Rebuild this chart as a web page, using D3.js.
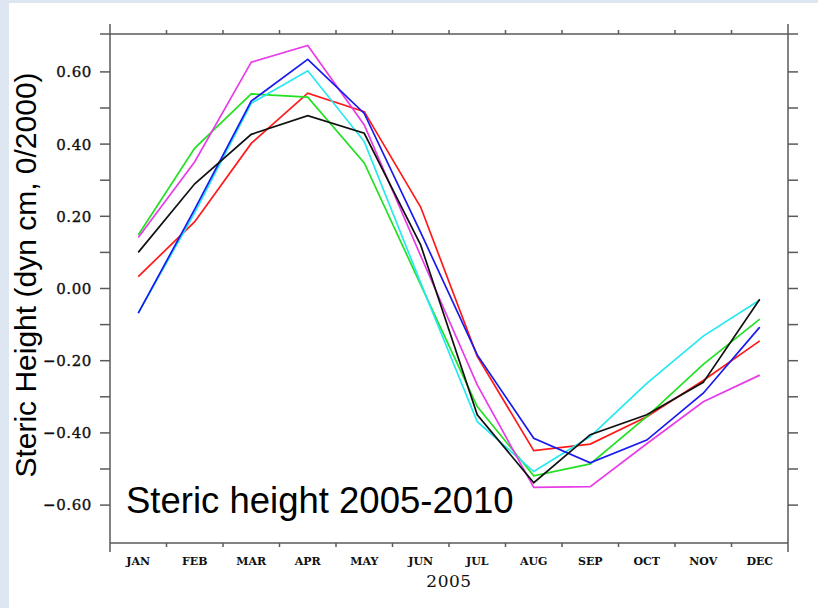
<!DOCTYPE html>
<html>
<head>
<meta charset="utf-8">
<script src="https://cdn.jsdelivr.net/npm/d3@7"></script>
<style>
  body { margin: 0; background: #dde6f1; }
  svg { display: block; }
</style>
</head>
<body>
<svg width="818" height="608"></svg>
<script>
var months = ['JAN','FEB','MAR','APR','MAY','JUN','JUL','AUG','SEP','OCT','NOV','DEC'];
var yTicks = [-0.6,-0.4,-0.2,0,0.2,0.4,0.6];
var yMinor = [-0.6,-0.5,-0.4,-0.3,-0.2,-0.1,0,0.1,0.2,0.3,0.4,0.5,0.6];

// one line per year, colours as in the original plot
var black   = [0.100, 0.290, 0.427, 0.479, 0.430, 0.120, -0.350, -0.538, -0.405, -0.350, -0.260, -0.030];
var red     = [0.033, 0.185, 0.402, 0.541, 0.490, 0.225, -0.188, -0.449, -0.431, -0.355, -0.255, -0.145];
var green   = [0.148, 0.389, 0.539, 0.530, 0.348, 0.010, -0.327, -0.519, -0.486, -0.355, -0.210, -0.085];
var blue    = [-0.068, 0.220, 0.519, 0.635, 0.485, 0.155, -0.184, -0.415, -0.483, -0.420, -0.290, -0.107];
var cyan    = [-0.068, 0.210, 0.513, 0.603, 0.407, 0.015, -0.369, -0.507, -0.410, -0.263, -0.132, -0.032];
var magenta = [0.141, 0.351, 0.627, 0.673, 0.453, 0.090, -0.267, -0.551, -0.549, -0.430, -0.314, -0.240];

var series = [
  {color: '#ff1a1a', values: red},
  {color: '#22e022', values: green},
  {color: '#26e8f0', values: cyan},
  {color: '#e83ce8', values: magenta},
  {color: '#1a1aee', values: blue},
  {color: '#111111', values: black}
];

// plot frame (named so they don't clash with window.top)
var fLeft = 110, fRight = 788, fTop = 34, fBottom = 543;
var axisColor = '#5a5a5a';

var svg = d3.select('svg');

svg.append('rect')
  .attr('x', 9).attr('y', 3)
  .attr('width', 809).attr('height', 605)
  .attr('fill', '#ffffff');

var x = d3.scaleBand().domain(months).range([fLeft, fRight]).padding(0);
var y = d3.scaleLinear().domain([-0.705, 0.705]).range([fBottom, fTop]);

var plot = svg.append('g');

// frame
var frame = svg.append('g').attr('stroke', axisColor).attr('stroke-width', 1.5);
frame.append('line').attr('x1', fLeft).attr('x2', fLeft).attr('y1', fTop - 10).attr('y2', fBottom + 9);
frame.append('line').attr('x1', fRight).attr('x2', fRight).attr('y1', fTop - 10).attr('y2', fBottom + 9);
frame.append('line').attr('x1', fLeft - 10).attr('x2', fRight + 10).attr('y1', fTop).attr('y2', fTop);
frame.append('line').attr('x1', fLeft).attr('x2', fRight).attr('y1', fBottom).attr('y2', fBottom);

// y ticks on both sides
frame.selectAll('.ytl').data(yMinor).enter().append('line')
  .attr('x1', fLeft - 10).attr('x2', fLeft)
  .attr('y1', function(d) { return y(d); }).attr('y2', function(d) { return y(d); });
frame.selectAll('.ytr').data(yMinor).enter().append('line')
  .attr('x1', fRight).attr('x2', fRight + 10)
  .attr('y1', function(d) { return y(d); }).attr('y2', function(d) { return y(d); });

// month boundary ticks top and bottom
var bounds = months.slice(1);
frame.selectAll('.xtt').data(bounds).enter().append('line')
  .attr('x1', function(d) { return x(d); }).attr('x2', function(d) { return x(d); })
  .attr('y1', fTop - 4).attr('y2', fTop);
frame.selectAll('.xtb').data(bounds).enter().append('line')
  .attr('x1', function(d) { return x(d); }).attr('x2', function(d) { return x(d); })
  .attr('y1', fBottom).attr('y2', fBottom + 4);

// tick labels
svg.selectAll('.ylab').data(yTicks).enter().append('text')
  .attr('x', 92)
  .attr('y', function(d) { return y(d); })
  .attr('dy', '0.36em')
  .attr('text-anchor', 'end')
  .attr('font-family', 'DejaVu Serif')
  .attr('font-size', 15)
  .attr('letter-spacing', 0.6)
  .attr('fill', '#111')
  .attr('stroke', '#111')
  .attr('stroke-width', 0.35)
  .text(function(d) { return d3.format('.2f')(d).replace('-', '\u2212'); });

svg.selectAll('.xlab').data(months).enter().append('text')
  .attr('x', function(d) { return x(d) + x.bandwidth() / 2; })
  .attr('y', 565)
  .attr('text-anchor', 'middle')
  .attr('font-family', 'DejaVu Serif')
  .attr('font-weight', 'bold')
  .attr('font-size', 11)
  .attr('fill', '#111')
  .text(function(d) { return d; });

svg.append('text')
  .attr('x', (fLeft + fRight) / 2)
  .attr('y', 587)
  .attr('text-anchor', 'middle')
  .attr('font-family', 'DejaVu Serif')
  .attr('font-size', 17)
  .attr('letter-spacing', 0.5)
  .attr('fill', '#111')
  .text('2005');

svg.append('text')
  .attr('transform', 'translate(36,275) rotate(-90)')
  .attr('text-anchor', 'middle')
  .attr('font-family', 'Liberation Sans')
  .attr('font-size', 30)
  .attr('fill', '#000')
  .text('Steric Height (dyn cm, 0/2000)');

// lines
var line = d3.line()
  .x(function(d, i) { return x(months[i]) + x.bandwidth() / 2; })
  .y(function(d) { return y(d); });

plot.selectAll('path').data(series).enter().append('path')
  .attr('d', function(s) { return line(s.values); })
  .attr('fill', 'none')
  .attr('stroke', function(s) { return s.color; })
  .attr('stroke-width', 1.7);

svg.append('text')
  .attr('x', 126)
  .attr('y', 513)
  .attr('font-family', 'Liberation Sans')
  .attr('font-size', 36.5)
  .attr('fill', '#000')
  .text('Steric height 2005-2010');
</script>
</body>
</html>
